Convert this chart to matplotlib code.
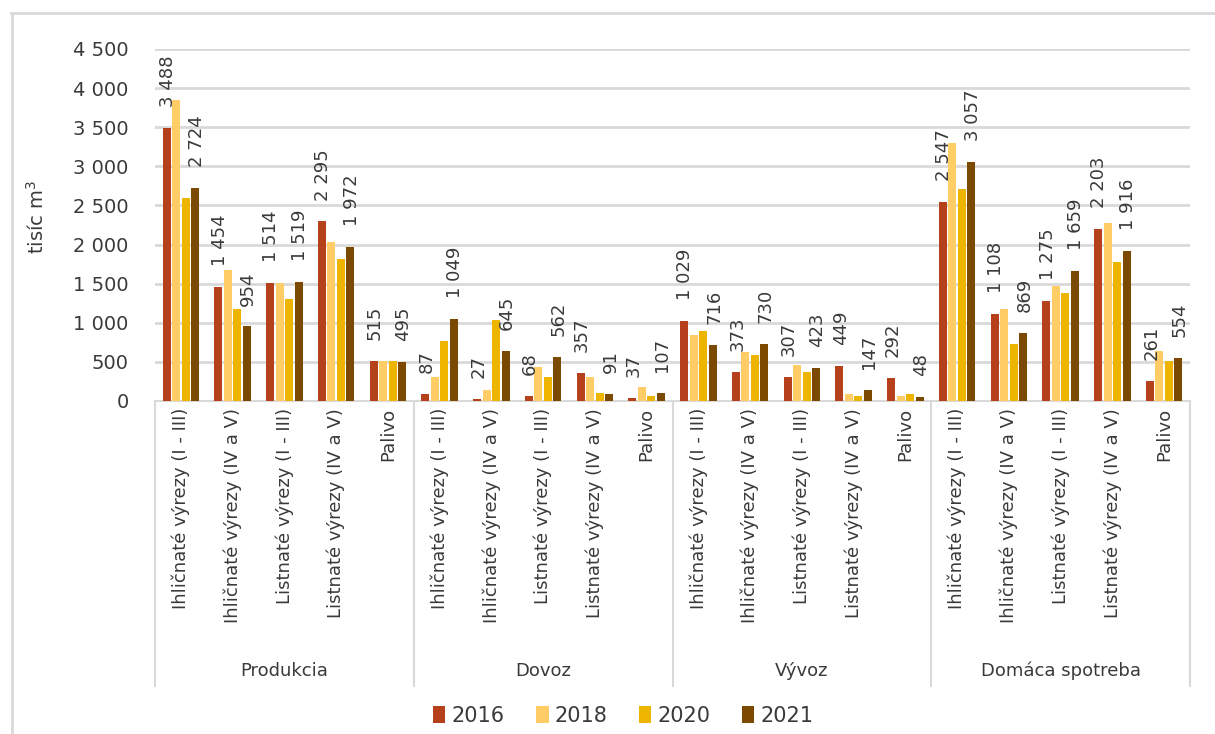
import matplotlib
matplotlib.use("Agg")
import matplotlib.pyplot as plt
from matplotlib.lines import Line2D
from matplotlib.ticker import FuncFormatter, MultipleLocator
import matplotlib.transforms as mtransforms

plt.rcParams['font.family'] = ['DejaVu Sans']

groups = ["Produkcia", "Dovoz", "Vývoz", "Domáca spotreba"]
subcats = ["Ihličnaté výrezy (I - III)", "Ihličnaté výrezy (IV a V)",
           "Listnaté výrezy (I - III)", "Listnaté výrezy (IV a V)", "Palivo"]
years = ["2016", "2018", "2020", "2021"]

v2016 = [3488, 1454, 1514, 2295, 515, 87, 27, 68, 357, 37,
         1029, 373, 307, 449, 292, 2547, 1108, 1275, 2203, 261]
v2018 = [3850, 1680, 1514, 2030, 515, 305, 145, 435, 305, 185,
         850, 625, 455, 85, 60, 3300, 1180, 1470, 2275, 640]
v2020 = [2590, 1180, 1300, 1820, 515, 765, 1035, 305, 100, 60,
         890, 585, 370, 60, 85, 2710, 725, 1385, 1780, 515]
v2021 = [2724, 954, 1519, 1972, 495, 1049, 645, 562, 91, 107,
         716, 730, 423, 147, 48, 3057, 869, 1659, 1916, 554]

series = [v2016, v2018, v2020, v2021]
colors = ["#B5401C", "#FFCC66", "#EDB500", "#7B4A00"]
labeled = [True, False, False, True]

W, H = 1215, 734
fig = plt.figure(figsize=(W / 100, H / 100), dpi=100)
ax = fig.add_axes([155 / W, 1 - 401 / H, (1190 - 155) / W, (401 - 49) / H])

TXT = "#3A3A3A"
GRID = "#D9D9D9"

def fmt(v):
    return f"{int(round(v)):,}".replace(",", " ")

n = len(v2016)
xs = list(range(n))
step = 0.184
bw = 0.158
for j, (vals, col) in enumerate(zip(series, colors)):
    pos = [x + (j - 1.5) * step for x in xs]
    ax.bar(pos, vals, width=bw, color=col, label=years[j], zorder=3)
    if labeled[j]:
        for p, v in zip(pos, vals):
            ax.annotate(fmt(v), xy=(p, v), xytext=(1, 15), textcoords="offset points",
                        rotation=90, ha="center", va="bottom", fontsize=13,
                        color=TXT, zorder=4)

ax.set_xlim(-0.5, n - 0.5)
ax.set_ylim(0, 4500)
ax.yaxis.set_major_locator(MultipleLocator(500))
ax.yaxis.set_major_formatter(FuncFormatter(lambda v, p: fmt(v)))
ax.tick_params(axis="y", length=0, pad=19, labelsize=14, labelcolor=TXT)
ax.set_xticks([])
ax.grid(axis="y", color=GRID, linewidth=2, zorder=0)
for s in ["top", "right", "left"]:
    ax.spines[s].set_visible(False)
ax.spines["bottom"].set_color(GRID)
ax.spines["bottom"].set_linewidth(1.5)
ax.set_ylabel("tisíc m$^3$", fontsize=14, color=TXT)
ax.yaxis.set_label_coords(-0.104, 0.523)

trans = mtransforms.blended_transform_factory(ax.transData, ax.transAxes)
# category labels
for i in xs:
    ax.annotate(subcats[i % 5], xy=(i, 0), xycoords=trans, xytext=(0, -5),
                textcoords="offset points", rotation=90, ha="center", va="top",
                fontsize=13, color=TXT, annotation_clip=False)
# group separators
ybot = -(686 - 401) / (401 - 49)
for b in [-0.5, 4.5, 9.5, 14.5, 19.5]:
    ax.add_line(Line2D([b, b], [0, ybot], transform=trans, color=GRID,
                       linewidth=1.5, clip_on=False))
# group labels
ygl = -(671 - 401) / (401 - 49)
for g, name in enumerate(groups):
    ax.text(g * 5 + 2, ygl, name, transform=trans, ha="center", va="center",
            fontsize=13, color=TXT)

# figure border (top & left visible)
fig.add_artist(Line2D([11 / W, 1], [1 - 12.5 / H, 1 - 12.5 / H], transform=fig.transFigure,
                      color=GRID, linewidth=2))
fig.add_artist(Line2D([12 / W, 12 / W], [0, 1 - 12.5 / H], transform=fig.transFigure,
                      color=GRID, linewidth=2))

leg = fig.legend(loc="center", bbox_to_anchor=(0.513, 1 - 716 / H), ncol=4, frameon=False,
                 fontsize=15, handlelength=0.6, handleheight=0.9, handletextpad=0.3,
                 columnspacing=1.5)
for t in leg.get_texts():
    t.set_color(TXT)

fig.savefig("out.png", dpi=100)
